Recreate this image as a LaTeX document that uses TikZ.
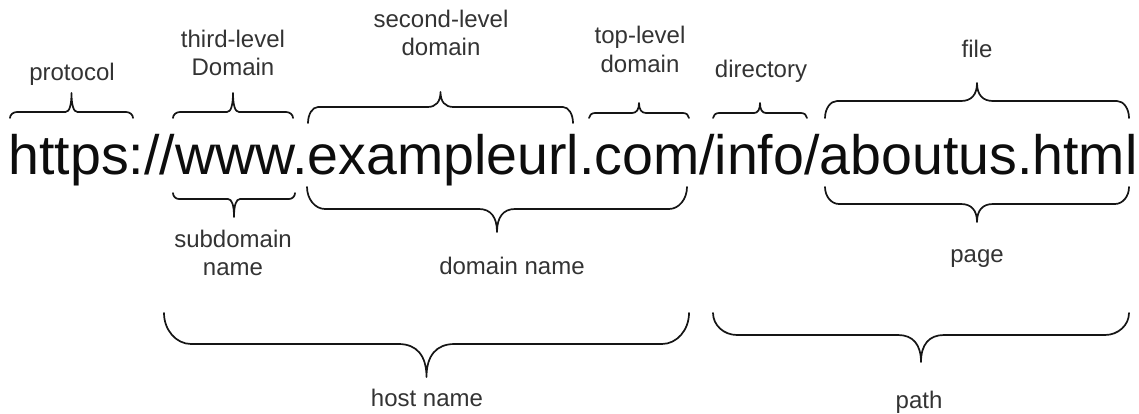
\documentclass[tikz,border=0pt]{standalone}
\usepackage{fontspec}
\setmainfont{Liberation Sans}
\definecolor{labcol}{HTML}{333333}
\definecolor{inkcol}{HTML}{0D0D0D}
\definecolor{bracecol}{HTML}{151515}
% x1 x2 yend yline ytip cornerwidth cuspwidth
\newcommand{\curlybrace}[7]{%
 \pgfmathsetmacro{\cbXm}{(#1+#2)/2}%
 \pgfmathsetmacro{\cbYa}{#3+0.55*(#4-#3)}%
 \pgfmathsetmacro{\cbXa}{#1+0.45*#6}%
 \pgfmathsetmacro{\cbXb}{#1+#6}%
 \pgfmathsetmacro{\cbXc}{\cbXm-#7}%
 \pgfmathsetmacro{\cbXd}{\cbXm-0.35*#7}%
 \pgfmathsetmacro{\cbYd}{#4+0.35*(#5-#4)}%
 \pgfmathsetmacro{\cbXe}{\cbXm+0.35*#7}%
 \pgfmathsetmacro{\cbXf}{\cbXm+#7}%
 \pgfmathsetmacro{\cbXg}{#2-#6}%
 \pgfmathsetmacro{\cbXh}{#2-0.45*#6}%
 \draw[bracestyle] (#1,#3) .. controls (#1,\cbYa) and (\cbXa,#4) .. (\cbXb,#4)
   -- (\cbXc,#4) .. controls (\cbXd,#4) and (\cbXm,\cbYd) .. (\cbXm,#5)
   .. controls (\cbXm,\cbYd) and (\cbXe,#4) .. (\cbXf,#4)
   -- (\cbXg,#4) .. controls (\cbXh,#4) and (#2,\cbYa) .. (#2,#3);
}
\begin{document}
\begin{tikzpicture}[x=1pt,y=-1pt,
  bracestyle/.style={draw=bracecol,line width=1.7pt,line cap=round,line join=round},
  lbl/.style={anchor=base,inner sep=0pt,font=\fontsize{24}{28}\selectfont,text=labcol},
  urltext/.style={anchor=base west,inner sep=0pt,font=\fontsize{55.5}{60}\selectfont,text=inkcol}]
\useasboundingbox (0,0) rectangle (1139,413);
\node[urltext] (url) at (8.3,174) {https://www.exampleurl.com/info/aboutus.html};
% top labels
\node[lbl] (protocol) at (72,80) {protocol};
\node[lbl] (third1) at (233,47) {third-level};
\node[lbl] (third2) at (233,75) {Domain};
\node[lbl] (second1) at (441,27) {second-level};
\node[lbl] (second2) at (441,55) {domain};
\node[lbl] (top1) at (640,43) {top-level};
\node[lbl] (top2) at (640,72) {domain};
\node[lbl] (directory) at (761,77) {directory};
\node[lbl] (file) at (977,57) {file};
% bottom labels
\node[lbl] (sub1) at (233,247) {subdomain};
\node[lbl] (sub2) at (233,275) {name};
\node[lbl] (domname) at (512,274) {domain name};
\node[lbl] (page) at (977,262) {page};
\node[lbl] (host) at (427,406) {host name};
\node[lbl] (path) at (919,408) {path};
% top braces
\curlybrace{10}{133}{118}{112}{93}{7}{6}
\curlybrace{173}{293}{118}{112}{93}{7}{6}
\curlybrace{308}{573}{123}{107}{92}{10}{13}
\curlybrace{589}{689}{118}{113}{103}{6}{7}
\curlybrace{713}{807}{118}{113}{103}{6}{6}
\curlybrace{825}{1129}{118}{101}{83}{12}{16}
% bottom braces
\curlybrace{173}{295}{193}{199}{217}{6}{6}
\curlybrace{307}{687}{187}{209}{232}{18}{18}
\curlybrace{825}{1129}{187}{204}{222}{14}{16}
\curlybrace{164}{689}{313}{344}{377}{27}{28}
\curlybrace{713}{1129}{313}{335}{362}{24}{23}
\end{tikzpicture}
\end{document}
